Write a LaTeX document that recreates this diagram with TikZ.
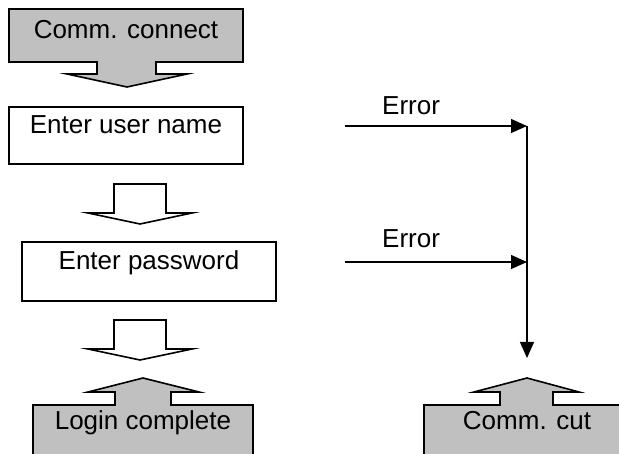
\documentclass[tikz,border=0pt]{standalone}
\usepackage{fontspec}
\setmainfont{Liberation Sans}
\usetikzlibrary{arrows.meta}
\definecolor{boxgray}{RGB}{192,192,192}
\tikzset{
  shapeline/.style={draw=black, line width=1.6pt, line join=miter},
  grayshape/.style={shapeline, fill=boxgray},
  whiteshape/.style={shapeline, fill=white},
  label/.style={inner sep=0pt, anchor=base, font=\fontsize{26}{30}\selectfont},
  errlabel/.style={label, anchor=base west},
  errline/.style={draw=black, line width=1.3pt, -{Triangle[length=16pt,width=14pt]}},
  plainline/.style={draw=black, line width=1.3pt}
}
\begin{document}
\begin{tikzpicture}[x=1pt,y=-1pt]
\useasboundingbox (0,0) rectangle (619,454);
% Comm. connect box with down arrow
\draw[grayshape] (9,9) -- (243,9) -- (243,62) -- (156,62) -- (156,74) -- (187,74) -- (127,87) -- (67,74) -- (97,74) -- (97,62) -- (9,62) -- cycle;
\node[label] (connect) at (126,39) {Comm. connect};
% Enter user name
\draw[whiteshape] (9,107) rectangle (243,164);
\node[label] (user) at (126,134) {Enter user name};
% arrow 2
\draw[whiteshape] (114,184) -- (166,184) -- (166,213) -- (192,213) -- (140,224) -- (88,213) -- (114,213) -- cycle;
% Enter password
\draw[whiteshape] (22,242) rectangle (276,301);
\node[label] (pass) at (149,270) {Enter password};
% arrow 3
\draw[whiteshape] (114,320) -- (166,320) -- (166,349) -- (192,349) -- (140,360) -- (88,349) -- (114,349) -- cycle;
% Login complete box with up arrow
\draw[grayshape] (33,470) -- (33,405) -- (115,405) -- (115,392) -- (88,392) -- (143,378) -- (199,392) -- (171,392) -- (171,405) -- (253,405) -- (253,470);
\node[label] (login) at (143,430) {Login complete};
% Comm. cut box with up arrow
\draw[grayshape] (424,470) -- (424,405) -- (500,405) -- (500,392) -- (474,392) -- (527,378) -- (579,392) -- (553,392) -- (553,405) -- (625,405) -- (625,470);
\node[label] (cut) at (527,430) {Comm. cut};
% Error connectors
\coordinate (e1s) at (345,126);
\coordinate (e1e) at (527,126);
\coordinate (e2s) at (345,262);
\coordinate (e2e) at (527,262);
\coordinate (vend) at (527,358);
\node[errlabel] (err1) at (382,115) {Error};
\node[errlabel] (err2) at (382,248) {Error};
\draw[errline] (e1s) -- (e1e);
\draw[errline] (e2s) -- (e2e);
\draw[errline] (e1e) -- (vend);
\end{tikzpicture}
\end{document}
